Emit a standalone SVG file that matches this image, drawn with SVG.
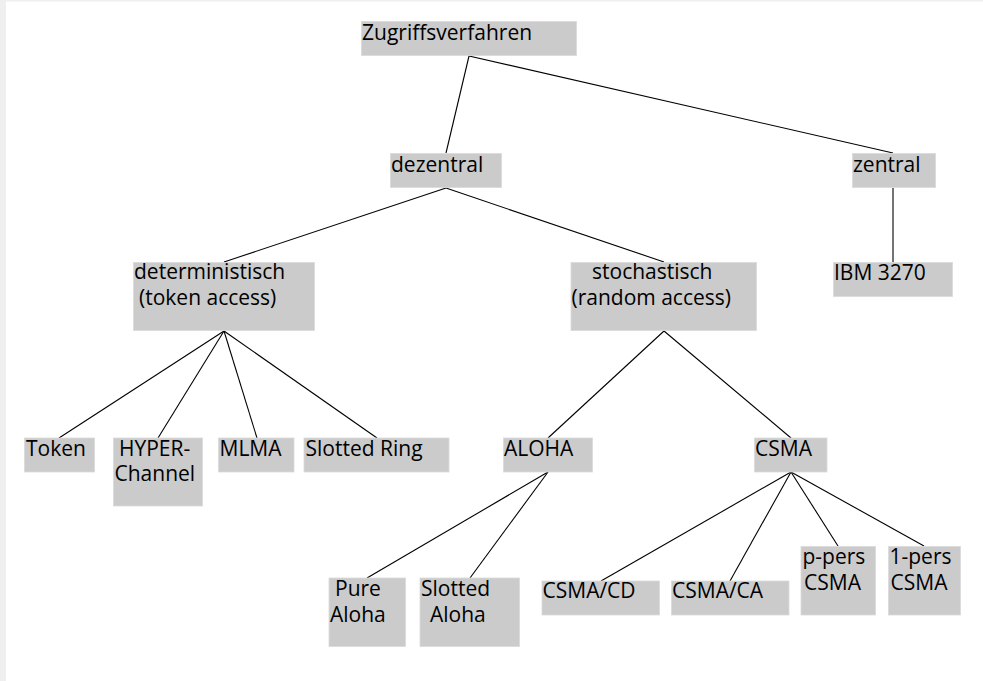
<svg xmlns="http://www.w3.org/2000/svg" width="983" height="681" viewBox="0 0 983 681">
<style>
.box{fill:#cbcbcb;stroke:#dadada;stroke-width:0.8}
.t{font-family:"Open Sans","Noto Sans","Liberation Sans",sans-serif;font-size:21px;fill:#000}
.c line{stroke:#000;stroke-width:1.1}
</style>
<rect x="0" y="0" width="983" height="681" fill="#efefef"/>
<rect x="6" y="1.5" width="977" height="679.5" fill="#ffffff"/>
<g class="c" id="connectors">
<line x1="469" y1="56" x2="446" y2="153"/>
<line x1="469" y1="56" x2="893" y2="153"/>
<line x1="446" y1="188" x2="224" y2="262"/>
<line x1="446" y1="188" x2="664" y2="262"/>
<line x1="893" y1="188" x2="893" y2="262"/>
<line x1="224" y1="331" x2="59" y2="438"/>
<line x1="224" y1="331" x2="158" y2="438"/>
<line x1="224" y1="331" x2="257" y2="438"/>
<line x1="224" y1="331" x2="377" y2="438"/>
<line x1="664" y1="331" x2="548" y2="438"/>
<line x1="664" y1="331" x2="791" y2="438"/>
<line x1="548" y1="472" x2="367" y2="578"/>
<line x1="548" y1="472" x2="470" y2="578"/>
<line x1="791" y1="472" x2="601" y2="581"/>
<line x1="791" y1="472" x2="730" y2="581"/>
<line x1="791" y1="472" x2="838" y2="546"/>
<line x1="791" y1="472" x2="924" y2="546"/>
</g>
<g id="n-zugriffsverfahren"><rect class="box" x="361.5" y="21.5" width="215" height="34"/><text class="t" x="362" y="40">Zugriffsverfahren</text></g>
<g id="n-dezentral"><rect class="box" x="390.5" y="153.5" width="111" height="34"/><text class="t" x="391" y="172">dezentral</text></g>
<g id="n-zentral"><rect class="box" x="852.5" y="153.5" width="83" height="34"/><text class="t" x="853" y="172">zentral</text></g>
<g id="n-deterministisch"><rect class="box" x="133.5" y="262.5" width="181" height="68"/><text class="t"><tspan x="134" y="279">deterministisch</tspan><tspan x="139" y="304.8">(token access)</tspan></text></g>
<g id="n-stochastisch"><rect class="box" x="571" y="262.5" width="185.5" height="68"/><text class="t"><tspan x="592" y="279">stochastisch</tspan><tspan x="571.5" y="304.8">(random access)</tspan></text></g>
<g id="n-ibm"><rect class="box" x="833.5" y="262.5" width="119" height="34"/><text class="t" x="834" y="279.5">IBM 3270</text></g>
<g id="n-token"><rect class="box" x="24.5" y="438" width="70" height="34"/><text class="t" x="26" y="455.5">Token</text></g>
<g id="n-hyper"><rect class="box" x="113.5" y="438" width="89" height="68"/><text class="t"><tspan x="119" y="455.5">HYPER-</tspan><tspan x="114.5" y="481.3">Channel</tspan></text></g>
<g id="n-mlma"><rect class="box" x="218.5" y="438" width="75.5" height="34"/><text class="t" x="219.5" y="455.5">MLMA</text></g>
<g id="n-slottedring"><rect class="box" x="304" y="438" width="145" height="34"/><text class="t" x="305.5" y="455.5">Slotted Ring</text></g>
<g id="n-aloha"><rect class="box" x="503.5" y="438" width="89" height="34"/><text class="t" x="504" y="455.5">ALOHA</text></g>
<g id="n-csma"><rect class="box" x="754.5" y="438" width="72.5" height="34"/><text class="t" x="755" y="455.5">CSMA</text></g>
<g id="n-pure"><rect class="box" x="329" y="578" width="76.5" height="68.5"/><text class="t"><tspan x="335" y="596.2">Pure</tspan><tspan x="330" y="622">Aloha</tspan></text></g>
<g id="n-slottedaloha"><rect class="box" x="420" y="578" width="99.5" height="68.5"/><text class="t"><tspan x="421" y="596.2">Slotted</tspan><tspan x="430" y="622">Aloha</tspan></text></g>
<g id="n-csmacd"><rect class="box" x="542" y="581" width="117.5" height="34"/><text class="t" x="542.5" y="598">CSMA/CD</text></g>
<g id="n-csmaca"><rect class="box" x="671.5" y="581" width="117.5" height="34"/><text class="t" x="672" y="598">CSMA/CA</text></g>
<g id="n-ppers"><rect class="box" x="801" y="546.5" width="74.5" height="68.5"/><text class="t"><tspan x="802.5" y="564.2">p-pers</tspan><tspan x="804" y="590">CSMA</tspan></text></g>
<g id="n-1pers"><rect class="box" x="888.5" y="546.5" width="72" height="68.5"/><text class="t"><tspan x="889.5" y="564.2">1-pers</tspan><tspan x="890.5" y="590">CSMA</tspan></text></g>
</svg>
